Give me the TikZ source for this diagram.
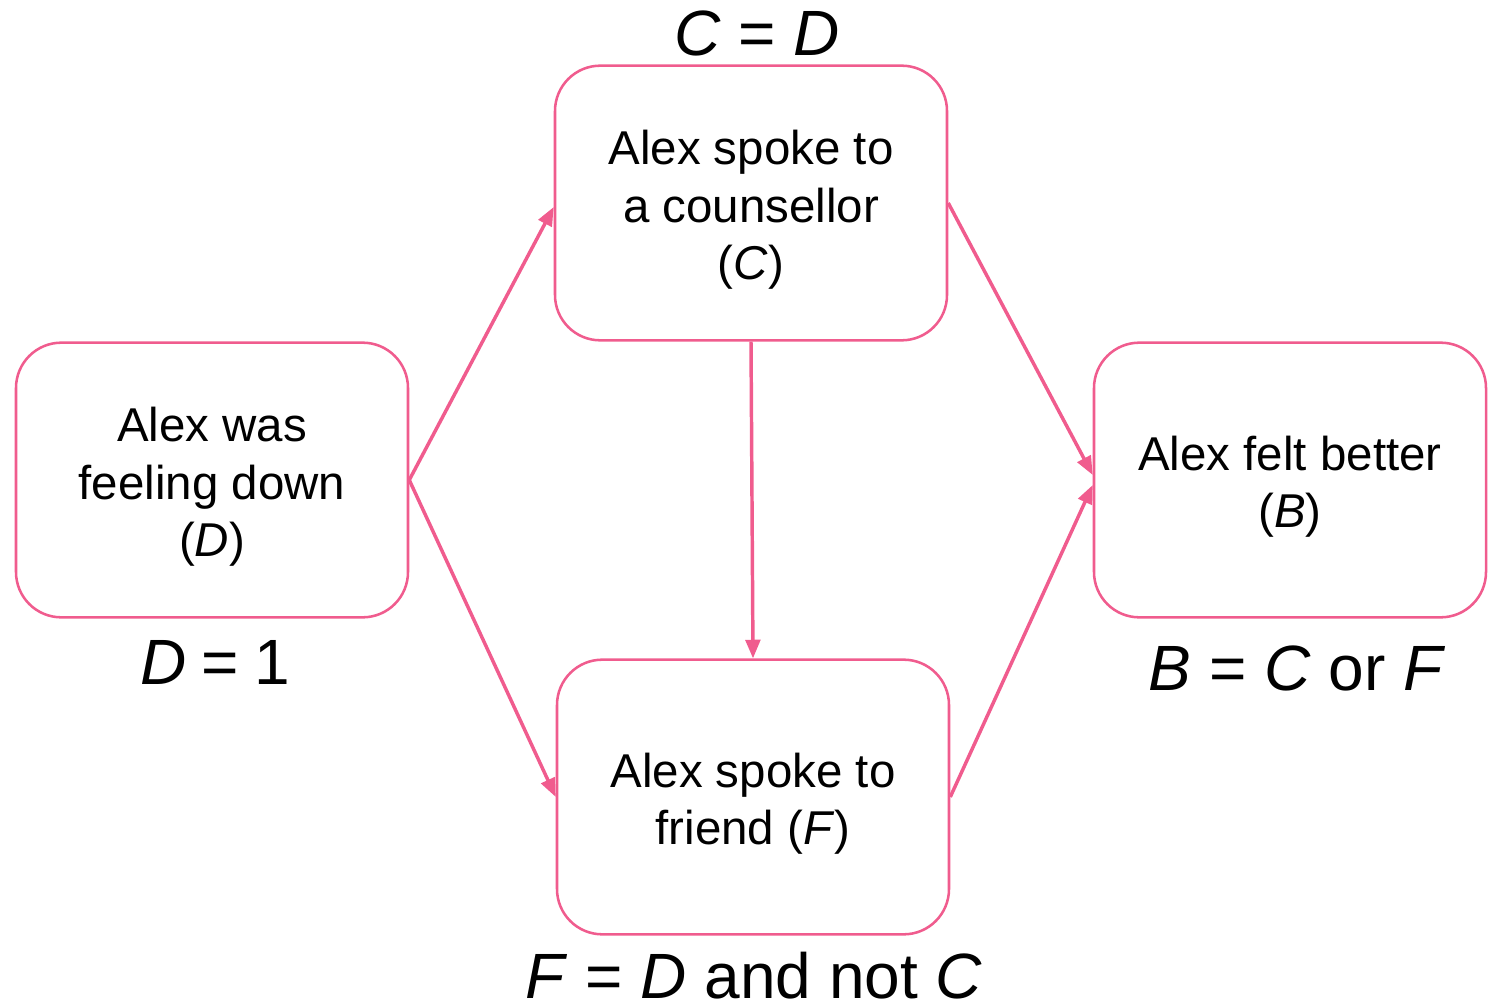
\documentclass[tikz,border=0pt]{standalone}
\usepackage{fontspec}
\setmainfont{Liberation Sans}
\usetikzlibrary{arrows.meta}
\definecolor{pinkline}{RGB}{240,92,142}
\tikzset{
  box/.style={draw=pinkline, line width=1.9pt, rounded corners=34pt,
    minimum width=294pt, minimum height=206pt, inner sep=0pt},
  boxtext/.style={align=center, font=\fontsize{35.6pt}{43pt}\selectfont, inner sep=0pt},
  lbl/.style={font=\fontsize{48pt}{56pt}\selectfont, inner sep=0pt},
  conn/.style={draw=pinkline, line width=2.6pt, -{Triangle[length=14pt,width=11pt]}}
}
\begin{document}
\begin{tikzpicture}[x=0.75pt,y=-0.75pt]
\useasboundingbox (0,0) rectangle (1496,1006);
\node[box] (D) at (212,480) {};
\node[box] (C) at (751,203) {};
\node[box] (F) at (753,797) {};
\node[box] (B) at (1290,480) {};
\node[boxtext] (tD) at (212,487) {Alex was\\feeling down\\(\textit{D})};
\node[boxtext] (tC) at (751,210) {Alex spoke to\\a counsellor\\(\textit{C})};
\node[boxtext] (tF) at (753,804) {Alex spoke to\\friend (\textit{F})};
\node[boxtext] (tB) at (1290,487) {Alex felt better\\(\textit{B})};
\node[lbl] (lC) at (757,33) {\textit{C} = \textit{D}};
\node[lbl] (lD) at (215,662) {\textit{D}\hspace{-2pt} = \hspace{-2pt}1};
\node[lbl] (lB) at (1297,668) {\textit{B} = \textit{C} or \textit{F}};
\node[lbl] (lF) at (754,976) {\textit{F} = \textit{D} and not \textit{C}};
\draw[conn] (D.east) -- ([yshift=-3pt]C.west);
\draw[conn] (D.east) -- (F.west);
\draw[conn] (C.south) -- (F.north);
\draw[conn] (C.east) -- ([yshift=3.75pt]B.west);
\draw[conn] (F.east) -- ([yshift=-3.75pt]B.west);
\end{tikzpicture}
\end{document}
